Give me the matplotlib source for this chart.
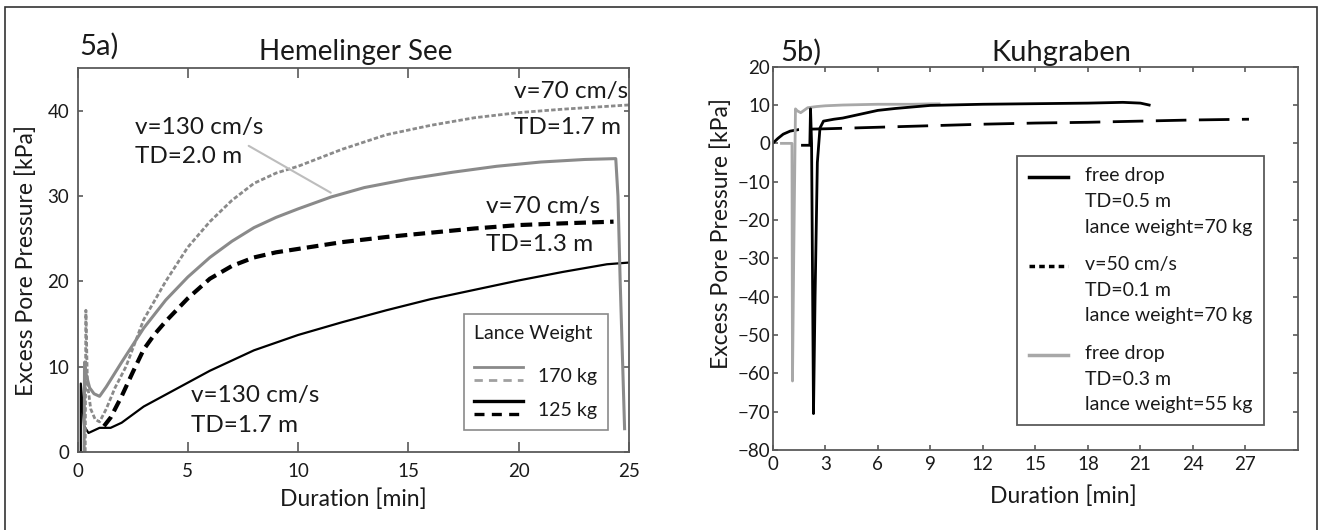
import matplotlib
matplotlib.use("Agg")
import matplotlib.pyplot as plt
from matplotlib.lines import Line2D
from matplotlib.patches import Rectangle
from matplotlib.legend_handler import HandlerBase

plt.rcParams['font.family'] = ['Lato', 'DejaVu Sans']

# ---------------- data: panel 5a (Hemelinger See) ----------------
a_gray_solid_x = [0.30, 0.32, 0.40, 0.55, 0.75, 1.0, 1.3, 2, 3, 4, 5, 6, 7, 8, 9, 10, 11.5, 13, 15, 17, 19, 21, 23, 24.4, 24.5, 24.6, 24.8]
a_gray_solid_y = [0, 10.5, 9.0, 7.5, 6.8, 6.5, 7.6, 10.5, 14.5, 17.8, 20.5, 22.8, 24.7, 26.3, 27.5, 28.5, 29.9, 31.0, 32.0, 32.8, 33.5, 34.0, 34.3, 34.4, 30.0, 20.0, 2.7]

a_gray_dash_x = [0.35, 0.38, 0.45, 0.6, 0.8, 1.0, 1.3, 1.7, 2.2, 3, 4, 5, 6, 7, 8, 9, 10, 12, 14, 16, 18, 20, 22, 25]
a_gray_dash_y = [0, 16.6, 8.0, 5.0, 3.8, 3.5, 5.0, 7.5, 10.0, 15.5, 20.0, 24.0, 27.0, 29.5, 31.5, 32.7, 33.5, 35.5, 37.2, 38.3, 39.2, 39.8, 40.2, 40.7]

a_black_dash_x = [1.2, 1.5, 2, 2.5, 3, 3.5, 4, 5, 6, 7, 8, 9, 10, 12, 14, 16, 18, 20, 22, 24.3]
a_black_dash_y = [3.0, 4.0, 6.5, 9.3, 12.0, 13.8, 15.3, 18.0, 20.3, 21.8, 22.8, 23.4, 23.8, 24.6, 25.2, 25.7, 26.2, 26.6, 26.8, 27.0]

a_black_solid_x = [0.15, 0.15, 0.3, 0.5, 1, 1.5, 2, 3, 4, 5, 6, 7, 8, 10, 12, 14, 16, 18, 20, 22, 24, 25]
a_black_solid_y = [0, 8.0, 3.0, 2.2, 2.8, 2.8, 3.4, 5.3, 6.7, 8.1, 9.5, 10.7, 11.9, 13.7, 15.2, 16.6, 17.9, 19.0, 20.1, 21.1, 22.0, 22.2]

a_xticks = [0, 5, 10, 15, 20, 25]
a_yticks = [0, 10, 20, 30, 40]
a_legend_labels = ['170 kg', '125 kg']

# ---------------- data: panel 5b (Kuhgraben) ----------------
b_black_x = [1.7, 2.12, 2.16, 2.22, 2.33, 2.42, 2.55, 2.7, 2.9, 3.5, 4, 5, 6, 7, 8, 9, 10, 12, 14, 16, 18, 20, 21, 21.5]
b_black_y = [-0.5, -0.5, 9.0, 0.0, -70.5, -40.0, -5.0, 4.0, 5.8, 6.3, 6.6, 7.6, 8.6, 9.1, 9.5, 9.9, 10.0, 10.2, 10.3, 10.4, 10.5, 10.7, 10.5, 10.0]

b_gray_x = [0.5, 1.1, 1.13, 1.2, 1.3, 1.4, 1.6, 2.0, 2.5, 3, 4, 5, 6, 7, 8, 9, 9.5]
b_gray_y = [0, 0, -62.0, -30.0, 9.0, 8.5, 8.0, 9.3, 9.6, 9.8, 10.0, 10.1, 10.2, 10.2, 10.2, 10.3, 10.3]

b_dash_x = [0, 0.3, 0.6, 1.0, 1.5, 2.0, 3, 6, 9, 12, 15, 18, 21, 24, 27.2]
b_dash_y = [0, 1.3, 2.4, 3.2, 3.6, 3.7, 3.8, 4.2, 4.6, 5.0, 5.3, 5.5, 5.8, 6.1, 6.3]

b_xticks = [0, 3, 6, 9, 12, 15, 18, 21, 24, 27]
b_yticks = [-80, -70, -60, -50, -40, -30, -20, -10, 0, 10, 20]
b_legend_labels = ['free drop\nTD=0.5 m\nlance weight=70 kg',
                   'v=50 cm/s\nTD=0.1 m\nlance weight=70 kg',
                   'free drop\nTD=0.3 m\nlance weight=55 kg']

GRAY = '#8a8a8a'
LGRAY = '#a8a8a8'
SPINE = '#5a5a5a'
TXT = '#1a1a1a'


class HandlerStack(HandlerBase):
    def create_artists(self, legend, orig_handle, xdescent, ydescent, width, height, fontsize, trans):
        ymid = (height - ydescent) / 2.0
        gap = 0.33 * fontsize
        out = []
        for h, dy in zip(orig_handle, (gap, -gap)):
            l = Line2D([-xdescent, -xdescent + width], [ymid + dy] * 2)
            l.update_from(h)
            l.set_transform(trans)
            out.append(l)
        return out


class HandlerTop(HandlerBase):
    def __init__(self, shift):
        super().__init__()
        self.shift = shift

    def create_artists(self, legend, orig_handle, xdescent, ydescent, width, height, fontsize, trans):
        y = (height - ydescent) / 2.0 + self.shift * fontsize
        l = Line2D([-xdescent, -xdescent + width], [y, y])
        l.update_from(orig_handle)
        l.set_transform(trans)
        return [l]


fig = plt.figure(figsize=(13.2, 5.3), dpi=100)
fig.add_artist(Rectangle((5 / 1320, -0.05), 1312 / 1320, 1.05 - 7 / 530,
                         transform=fig.transFigure, fill=False, ec='#333333', lw=1.2))

W, H = 1320, 530
axA = fig.add_axes([77.5 / W, (H - 451.7) / H, 551.5 / W, 383.4 / H])
axB = fig.add_axes([772.7 / W, (H - 450) / H, 525.3 / W, 383.3 / H])

for ax in (axA, axB):
    for s in ax.spines.values():
        s.set_color(SPINE)
        s.set_linewidth(1.3)

# ---------------- panel A ----------------
axA.plot(a_black_solid_x, a_black_solid_y, color='black', lw=1.6)
axA.plot(a_gray_solid_x, a_gray_solid_y, color=GRAY, lw=2.2)
axA.plot(a_gray_dash_x, a_gray_dash_y, color=GRAY, lw=2.0, linestyle=(0, (1.6, 0.8)))
axA.plot(a_black_dash_x, a_black_dash_y, color='black', lw=3.0, linestyle=(0, (2.8, 1.5)))
axA.set_xlim(0, 25)
axA.set_ylim(0, 45)
axA.set_xticks(a_xticks)
axA.set_yticks(a_yticks)
axA.tick_params(axis='x', direction='in', length=7, width=1.2, color=SPINE, top=True,
                labelsize=13.5, pad=8, labelcolor=TXT)
axA.tick_params(axis='y', direction='in', length=3.5, width=1.2, color=SPINE, right=True,
                labelsize=13.5, pad=6, labelcolor=TXT)
axA.set_xlabel('Duration [min]', fontsize=16.5, color=TXT)
axA.set_ylabel('Excess Pore Pressure [kPa]', fontsize=16.5, color=TXT)
axA.xaxis.set_label_coords(0.5, -0.0947)
axA.yaxis.set_label_coords(-0.073, 0.5)
axA.text(0.003, 1.0347, '5a)', transform=axA.transAxes, fontsize=21, va='baseline', ha='left', color=TXT)
axA.text(0.505, 1.0217, 'Hemelinger See', transform=axA.transAxes, fontsize=20, va='baseline', ha='center', color=TXT)

ann = dict(fontsize=17.5, va='baseline', ha='left', color=TXT)
axA.text(19.8, 41.5, 'v=70 cm/s', **ann)
axA.text(19.8, 37.3, 'TD=1.7 m', **ann)
axA.text(2.61, 37.3, 'v=130 cm/s', **ann)
axA.text(2.61, 33.9, 'TD=2.0 m', **ann)
axA.text(18.54, 28.0, 'v=70 cm/s', **ann)
axA.text(18.54, 23.6, 'TD=1.3 m', **ann)
axA.text(5.15, 5.8, 'v=130 cm/s', **ann)
axA.text(5.15, 2.26, 'TD=1.7 m', **ann)
axA.annotate('', xy=(11.48, 30.4), xytext=(7.76, 35.9),
             arrowprops=dict(arrowstyle='-', color='#bdbdbd', lw=1.5, shrinkA=0, shrinkB=0))

hA = [(Line2D([], [], color=GRAY, lw=2.0), Line2D([], [], color='#a0a0a0', lw=2.0, linestyle=(0, (3, 2.2)))),
      (Line2D([], [], color='black', lw=2.4), Line2D([], [], color='black', lw=2.4, linestyle=(0, (3, 2.2))))]
legA = axA.legend(hA, a_legend_labels, handler_map={tuple: HandlerStack()},
                  loc='upper left', bbox_to_anchor=(0.70, 0.358), borderaxespad=0,
                  title='Lance Weight\n', title_fontsize=14, fontsize=14, alignment='left',
                  handlelength=2.5, handleheight=1.3, handletextpad=0.8, labelspacing=0.65,
                  borderpad=0.55, fancybox=False, framealpha=1, edgecolor='#8a8a8a')
legA.get_frame().set_linewidth(1.2)
legA.get_title().set_linespacing(0.5)
legA.get_title().set_color(TXT)
for t in legA.get_texts():
    t.set_color(TXT)

# ---------------- panel B ----------------
axB.plot(b_dash_x, b_dash_y, color='black', lw=2.0, linestyle=(0, (11, 4.5)))
axB.plot(b_gray_x, b_gray_y, color=LGRAY, lw=2.0)
axB.plot(b_black_x, b_black_y, color='black', lw=2.0)
axB.set_xlim(0, 30)
axB.set_ylim(-80, 20)
axB.set_xticks(b_xticks)
axB.set_yticks(b_yticks)
axB.tick_params(axis='both', direction='in', length=3.6, width=1.2, color=SPINE, top=True, right=True,
                labelsize=13.5, labelcolor=TXT)
axB.tick_params(axis='x', pad=4)
axB.tick_params(axis='y', pad=2)
axB.set_xlabel('Duration [min]', fontsize=16.5, color=TXT)
axB.set_ylabel('Excess Pore Pressure [kPa]', fontsize=16.5, color=TXT)
axB.xaxis.set_label_coords(0.553, -0.091)
axB.yaxis.set_label_coords(-0.077, 0.566)
axB.text(0.014, 1.015, '5b)', transform=axB.transAxes, fontsize=21, va='baseline', ha='left', color=TXT)
axB.text(0.55, 1.015, 'Kuhgraben', transform=axB.transAxes, fontsize=21, va='baseline', ha='center', color=TXT)

LS = 1.62
hB = [Line2D([], [], color='black', lw=2.5),
      Line2D([], [], color='black', lw=2.5, linestyle=(0, (1.6, 1.2))),
      Line2D([], [], color=LGRAY, lw=2.5)]
shift = 0.66 * LS + 0.2
legB = axB.legend(hB, b_legend_labels, handler_map={Line2D: HandlerTop(shift)},
                  loc='upper left', bbox_to_anchor=(0.465, 0.768), borderaxespad=0,
                  fontsize=14, handlelength=2.0, handletextpad=0.9, labelspacing=1.05,
                  borderpad=0.6, fancybox=False, framealpha=1, edgecolor='#5a5a5a')
legB.get_frame().set_linewidth(1.3)
for t in legB.get_texts():
    t.set_linespacing(LS)
    t.set_color(TXT)

fig.savefig('out.png', dpi=100)
